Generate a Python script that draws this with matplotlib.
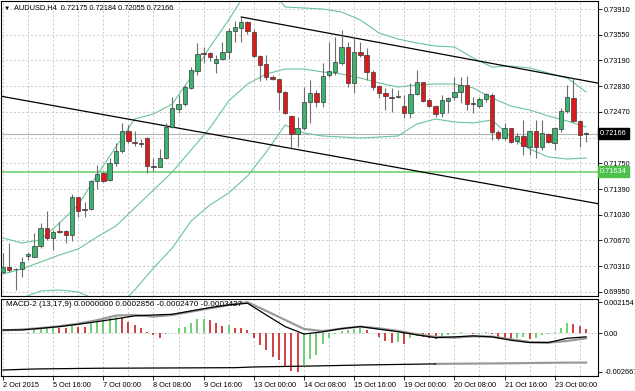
import matplotlib
matplotlib.use('Agg')
import matplotlib.pyplot as plt

plt.rcParams['font.family'] = ['Liberation Sans', 'DejaVu Sans']
plt.rcParams['font.size'] = 5.3

symbol = 'AUDUSD,H4'

# ---- price data, AUDUSD H4, 2 Oct 2015 08:00 .. 23 Oct 2015 ----
opens = [0.70228, 0.70298, 0.70270, 0.70270, 0.70452, 0.70438, 0.70592, 0.70844, 0.70704, 0.70802,
         0.70802, 0.70746, 0.71278, 0.71110, 0.71110, 0.71502, 0.71614, 0.71516, 0.71754, 0.71922,
         0.72202, 0.72048, 0.72034, 0.72104, 0.71712, 0.71698, 0.71824, 0.72258, 0.72510, 0.72580,
         0.72804, 0.73042, 0.73294, 0.73294, 0.73154, 0.73210, 0.73308, 0.73602, 0.73644, 0.73728,
         0.73588, 0.73252, 0.73140, 0.72958, 0.72930, 0.72748, 0.72412, 0.72160, 0.72244, 0.72608,
         0.72734, 0.72608, 0.72986, 0.73028, 0.73154, 0.73378, 0.72874, 0.73308, 0.73266, 0.73028,
         0.72832, 0.72734, 0.72678, 0.72678, 0.72552, 0.72454, 0.72720, 0.72888, 0.72636, 0.72552,
         0.72454, 0.72622, 0.72678, 0.72748, 0.72846, 0.72594, 0.72552, 0.72650, 0.72706, 0.72188,
         0.72104, 0.72244, 0.72062, 0.72132, 0.71978, 0.72202, 0.71978, 0.72160, 0.72034, 0.72230,
         0.72482, 0.72664, 0.72342, 0.72175]
highs = [0.70494, 0.70634, 0.70284, 0.70438, 0.70508, 0.70774, 0.70914, 0.71082, 0.70816, 0.70928,
         0.70816, 0.71320, 0.71278, 0.71208, 0.71516, 0.71726, 0.71628, 0.71824, 0.72034, 0.72314,
         0.72286, 0.72202, 0.72090, 0.72118, 0.71824, 0.71950, 0.72314, 0.72678, 0.72706, 0.72846,
         0.73098, 0.73434, 0.73378, 0.73308, 0.73266, 0.73448, 0.73644, 0.73742, 0.73798, 0.73742,
         0.73630, 0.73266, 0.73266, 0.72986, 0.72930, 0.72762, 0.72426, 0.72398, 0.72818, 0.72916,
         0.72776, 0.73154, 0.73448, 0.73518, 0.73616, 0.73448, 0.73504, 0.73448, 0.73364, 0.73056,
         0.72846, 0.72804, 0.72804, 0.72776, 0.72706, 0.72874, 0.73056, 0.72888, 0.72664, 0.72566,
         0.72706, 0.72678, 0.72958, 0.72958, 0.72972, 0.72678, 0.72678, 0.72734, 0.72734, 0.72216,
         0.72314, 0.72244, 0.72174, 0.72356, 0.72216, 0.72356, 0.72356, 0.72174, 0.72258, 0.72524,
         0.72846, 0.72944, 0.72356, 0.72184]
lows = [0.70214, 0.70228, 0.69976, 0.70158, 0.70396, 0.70438, 0.70564, 0.70676, 0.70536, 0.70774,
        0.70634, 0.70662, 0.70998, 0.70998, 0.71096, 0.71390, 0.71488, 0.71502, 0.71712, 0.71894,
        0.72034, 0.71992, 0.71978, 0.71614, 0.71642, 0.71698, 0.71810, 0.72244, 0.72454, 0.72552,
        0.72790, 0.72986, 0.73154, 0.73182, 0.73014, 0.73196, 0.73210, 0.73448, 0.73448, 0.73560,
        0.73238, 0.72902, 0.72916, 0.72916, 0.72496, 0.72440, 0.71964, 0.71978, 0.72216, 0.72314,
        0.72538, 0.72538, 0.72958, 0.72986, 0.73126, 0.72818, 0.72734, 0.73238, 0.72916, 0.72776,
        0.72664, 0.72496, 0.72468, 0.72664, 0.72384, 0.72384, 0.72706, 0.72608, 0.72538, 0.72398,
        0.72398, 0.72454, 0.72636, 0.72594, 0.72496, 0.72454, 0.72524, 0.72608, 0.72076, 0.72076,
        0.72076, 0.72034, 0.72020, 0.71866, 0.71866, 0.71824, 0.71936, 0.72034, 0.71936, 0.72188,
        0.72454, 0.72328, 0.71978, 0.72055]
closes = [0.70298, 0.70256, 0.70264, 0.70368, 0.70480, 0.70592, 0.70844, 0.70704, 0.70788, 0.70795,
          0.70746, 0.71278, 0.71082, 0.71103, 0.71502, 0.71600, 0.71502, 0.71754, 0.71922, 0.72202,
          0.72062, 0.72041, 0.72027, 0.71712, 0.71705, 0.71824, 0.72258, 0.72524, 0.72580, 0.72818,
          0.73056, 0.73280, 0.73287, 0.73238, 0.73210, 0.73308, 0.73602, 0.73658, 0.73728, 0.73602,
          0.73252, 0.73126, 0.72958, 0.72930, 0.72748, 0.72454, 0.72160, 0.72244, 0.72608, 0.72734,
          0.72608, 0.72972, 0.73042, 0.73168, 0.73378, 0.72874, 0.73308, 0.73266, 0.73028, 0.72818,
          0.72734, 0.72692, 0.72671, 0.72692, 0.72454, 0.72720, 0.72888, 0.72622, 0.72552, 0.72440,
          0.72636, 0.72664, 0.72748, 0.72846, 0.72580, 0.72587, 0.72650, 0.72720, 0.72188, 0.72104,
          0.72244, 0.72048, 0.72132, 0.71992, 0.72202, 0.71978, 0.72174, 0.72048, 0.72244, 0.72482,
          0.72678, 0.72342, 0.72146, 0.72166]

time_labels = ['2 Oct 2015', '5 Oct 16:00', '7 Oct 00:00', '8 Oct 08:00', '9 Oct 16:00',
               '13 Oct 00:00', '14 Oct 08:00', '15 Oct 16:00', '19 Oct 00:00', '20 Oct 08:00',
               '21 Oct 16:00', '23 Oct 00:00']

price_ticks = [0.69950, 0.70310, 0.70670, 0.71030, 0.71390, 0.71750,
               0.72110, 0.72470, 0.72830, 0.73190, 0.73550, 0.73910]

# Bollinger bands, read every 3rd bar
band_idx = list(range(0, 94, 3))
bb_upper = [0.70704, 0.70634, 0.70676, 0.70914, 0.71166, 0.71586, 0.71978, 0.72370, 0.72440, 0.72580,
            0.72958, 0.73378, 0.73756, 0.74176, 0.74246, 0.73938, 0.73924, 0.73910, 0.73868, 0.73756,
            0.73574, 0.73490, 0.73434, 0.73392, 0.73378, 0.73224, 0.73098, 0.73112, 0.73084, 0.73014,
            0.72944, 0.72748]
bb_middle = [0.70200, 0.70270, 0.70368, 0.70466, 0.70550, 0.70718, 0.70872, 0.71124, 0.71376, 0.71628,
             0.71936, 0.72244, 0.72622, 0.72860, 0.73000, 0.73070, 0.73070, 0.73028, 0.73000, 0.72944,
             0.72874, 0.72818, 0.72846, 0.72860, 0.72860, 0.72804, 0.72664, 0.72552, 0.72496, 0.72412,
             0.72342, 0.72258]
bb_lower = [0.69766, 0.69864, 0.69962, 0.69976, 0.69948, 0.69836, 0.69696, 0.69976, 0.70284, 0.70564,
            0.70942, 0.71166, 0.71334, 0.71572, 0.71908, 0.72286, 0.72174, 0.72132, 0.72118, 0.72104,
            0.72118, 0.72132, 0.72300, 0.72370, 0.72328, 0.72314, 0.72356, 0.72118, 0.71950, 0.71838,
            0.71810, 0.71824]

# trend lines (bar index, price)
trend_upper_t = [38, 95]
trend_upper_p = [0.73798, 0.72871]
trend_lower_t = [-0.5, 95]
trend_lower_p = [0.72692, 0.71183]
support_level = 0.71634
bid_price = 0.72166

# MACD-2 (13,17,9)
macd_hist = [0.3, 0.2, 0.1, 0.4, 1.1, 2.0, 2.8, 3.4, 4.2, 3.9,
             3.6, 4.8, 4.5, 4.3, 6.9, 8.5, 9.9, 10.8, 11.4, 10.3,
             8.0, 5.5, 3.5, 1.0, -1.1, -3.4, -0.7, 0.2, 3.4, 4.6,
             6.9, 9.9, 10.1, 9.2, 6.9, 5.3, 5.6, 3.9, 3.4, 2.3,
             -3.4, -8.0, -11.5, -16.0, -18.4, -23.0, -26.0, -27.0, -21.8, -17.5,
             -15.0, -7.6, -3.0, -0.7, 1.6, 2.1, 3.2, 3.4, 2.1, 0.5,
             -2.5, -5.3, -6.4, -6.0, -7.6, -3.0, -1.8, -2.5, -3.2, -4.2,
             -2.6, -1.0, -0.5, 0.8, 0.3, -0.3, -0.2, 1.0, -0.8, -2.8,
             -4.0, -4.2, -3.5, -2.8, -4.0, -3.5, -1.5, -0.8, 0.8, 3.9,
             7.4, 6.2, 5.0, 2.856]  # x 1e-4
macd_main = [2.3, 2.3, 3.4, 4.6, 6.2, 8.0, 9.9, 12.0, 12.6, 13.1, 15.4, 17.7, 19.5, 20.7, 12.6, 4.6,
             -0.5, 1.0, 3.2, 4.6, 2.8, 1.1, -1.1, -3.0, -2.5, -1.8, -2.5, -4.8, -6.4, -6.4, -3.4, -2.47]
macd_signal = [2.0, 2.6, 3.6, 4.8, 6.6, 9.0, 12.2, 12.6, 11.5, 12.6, 14.9, 17.2, 19.5, 21.4, 15.4, 9.2,
               3.0, 1.5, 3.2, 4.6, 3.4, 1.6, -0.7, -2.5, -3.0, -2.1, -2.3, -4.1, -6.0, -6.4, -5.3, -3.43]
floor_idx = [0, 5, 15, 37, 40, 50, 58, 69, 80, 90, 93]
floor_val = [-2.53, -2.46, -2.41, -2.37, -2.32, -2.25, -2.18, -2.11, -2.07, -2.02, -2.02]  # x 1e-3

n = len(closes)
idx = list(range(n))

fig = plt.figure(figsize=(6.35, 3.91), dpi=100)
fig.patch.set_facecolor('white')
ax = fig.add_axes([1 / 635, 1 - 296 / 391, 597 / 635, 295 / 391])
ax2 = fig.add_axes([1 / 635, 1 - 376 / 391, 597 / 635, 77 / 391])

xmin, xmax = -0.32, 94.91
grid_kw = dict(color='#c4c4c4', linestyle=(0, (2.5, 2.5)), linewidth=0.6)

for a in (ax, ax2):
    a.set_xlim(xmin, xmax)
    a.set_xticks(range(0, n, 8))
    a.set_xticks(range(4, n, 8), minor=True)
    a.grid(True, axis='x', which='both', **grid_kw)
    a.set_axisbelow(True)
    for s in a.spines.values():
        s.set_color('black')
        s.set_linewidth(0.8)

# ---- main panel ----
ax.set_ylim(0.69892, 0.74022)
ax.yaxis.tick_right()
ax.set_yticks(price_ticks)
ax.set_yticklabels(['%.5f' % p for p in price_ticks])
ax.grid(True, axis='y', **grid_kw)
ax.tick_params(axis='y', length=3, width=0.6, pad=1.5, labelsize=5.3)
ax.tick_params(axis='x', which='both', length=0, labelbottom=False)

ax.axhline(bid_price, color='#b4b4b4', lw=0.8, zorder=1)
ax.axhline(support_level, color='#66cc66', lw=1.1, zorder=1)

band_col = '#6cc49a'
ax.plot(band_idx, bb_upper, color=band_col, lw=0.8, zorder=2)
ax.plot(band_idx, bb_middle, color=band_col, lw=0.8, zorder=2)
ax.plot(band_idx, bb_lower, color=band_col, lw=0.8, zorder=2)

ax.plot(trend_upper_t, trend_upper_p, color='black', lw=0.9, zorder=2)
ax.plot(trend_lower_t, trend_lower_p, color='black', lw=0.9, zorder=2)

ax.vlines(idx, lows, highs, color='#6e6e6e', lw=0.8, zorder=3)
bottoms = [min(o, c) for o, c in zip(opens, closes)]
heights = [abs(c - o) for o, c in zip(opens, closes)]
colors = ['#3cb371' if c >= o else '#dd1a1a' for o, c in zip(opens, closes)]
ax.bar(idx, heights, bottom=bottoms, width=0.7, color=colors,
       edgecolor='#3a3a3a', linewidth=0.5, zorder=4)

# price boxes on the axis
ax.text(1.003, bid_price, '%.5f' % bid_price, transform=ax.get_yaxis_transform(),
        color='white', fontsize=5.3, va='center', ha='left', zorder=10, clip_on=False,
        bbox=dict(boxstyle='square,pad=0.3', fc='black', ec='black'))
ax.text(1.003, support_level, '%.5f' % support_level, transform=ax.get_yaxis_transform(),
        color='white', fontsize=5.3, va='center', ha='left', zorder=10, clip_on=False,
        bbox=dict(boxstyle='square,pad=0.3', fc='#4cc24c', ec='#4cc24c'))

fig.text(4 / 635, 1 - 8 / 391, '▼', fontsize=4.5, va='center', ha='left')
fig.text(14 / 635, 1 - 8 / 391, '%s  %.5f %.5f %.5f %.5f' % (symbol, opens[-1], highs[-1], lows[-1], closes[-1]),
         fontsize=5.3, va='center', ha='left')

# ---- MACD panel ----
hist = [h * 1e-4 for h in macd_hist]
hcols = ['#66cc66' if i == 0 or hist[i] >= hist[i - 1] else '#cc3333' for i in range(n)]
ax2.set_ylim(-0.002943, 0.002361)
ax2.axhline(0, color='#c4c4c4', lw=0.6, linestyle=(0, (2, 2)), zorder=1)
ax2.vlines(idx, 0, hist, colors=hcols, lw=1.3, zorder=2)
floor = [v * 1e-3 for v in floor_val]
split = floor_idx.index(69)
ax2.plot(floor_idx[split:], floor[split:], color='#9a9a9a', lw=1.6, zorder=3)
ax2.plot(floor_idx[:split + 1], floor[:split + 1], color='black', lw=0.9, zorder=3)
ax2.plot(band_idx, [v * 1e-4 for v in macd_signal], color='#9a9a9a', lw=1.6, zorder=3)
ax2.plot(band_idx, [v * 1e-4 for v in macd_main], color='black', lw=0.9, zorder=4)

ax2.yaxis.tick_right()
ax2.set_yticks([0.002154, 0.0, -0.002667])
ax2.set_yticklabels(['0.002154', '0.00', '-0.002667'])
ax2.tick_params(axis='y', length=3, width=0.6, pad=1.5, labelsize=5.3)
ax2.tick_params(axis='x', which='major', length=3, width=0.6, pad=1.5, labelsize=5.3)
ax2.tick_params(axis='x', which='minor', length=0)
ax2.set_xticklabels(time_labels)
for t in ax2.get_xticklabels():
    t.set_ha('left')

ax2.text(5 / 597, 1 - 6 / 77, 'MACD-2 (13,17,9) 0.0000000 0.0002856 -0.0002470 -0.0003427',
         transform=ax2.transAxes, fontsize=5.9, va='center', ha='left', zorder=10)

fig.savefig('out.png', dpi=100)
